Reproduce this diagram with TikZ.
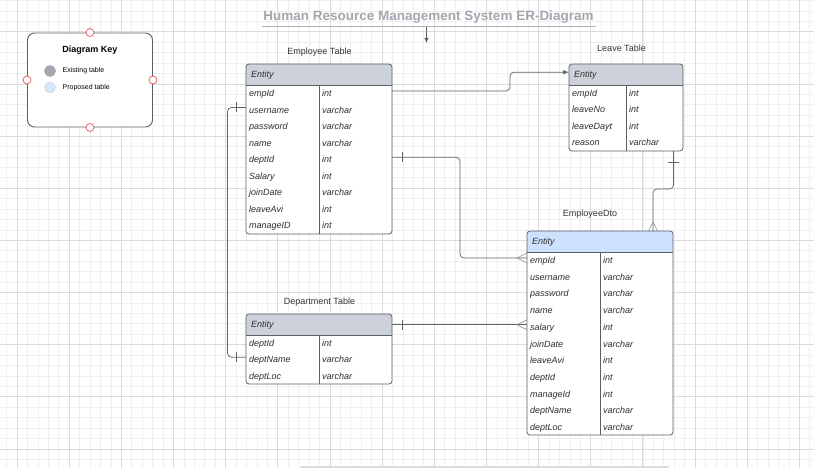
\documentclass[tikz,border=0pt]{standalone}
\usepackage{fontspec}
\setmainfont{Liberation Sans}
\usetikzlibrary{arrows.meta,calc}
\definecolor{gridminor}{HTML}{EFEFEF}
\definecolor{gridmajor}{HTML}{DBDBDB}
\definecolor{hdrgray}{HTML}{CDD2DA}
\definecolor{hdrblue}{HTML}{CFE2FD}
\definecolor{bordergray}{HTML}{5B5F66}
\definecolor{conncol}{HTML}{5F636A}
\definecolor{crowcol}{HTML}{8C9096}
\definecolor{titlegray}{HTML}{A3A8B0}
\definecolor{keyred}{HTML}{E5535E}
\definecolor{existcol}{HTML}{A4A9B1}
\definecolor{propcol}{HTML}{D4E6FA}
\tikzset{
  rowtxt/.style={font=\fontsize{9}{10}\selectfont\itshape, text=black!82, inner sep=0pt, anchor=base west},
  lbltxt/.style={font=\fontsize{9}{10}\selectfont, text=black!80, inner sep=0pt},
  tblborder/.style={draw=bordergray, line width=0.8pt, rounded corners=3pt},
  conn/.style={draw=conncol, line width=0.7pt},
  crow/.style={draw=crowcol, line width=0.6pt},
  redpt/.style={circle, draw=keyred, fill=white, minimum size=8pt, inner sep=0pt, line width=0.7pt},
}
\newcommand\ertable[9]{%
  \node[fill=white, inner sep=0pt, outer sep=0pt, minimum width={#4-#2}, minimum height={#5-#3}, anchor=north west, rounded corners=3pt] (#1) at (#2,#3) {};
  \begin{scope}
    \clip[rounded corners=3pt] (#2,#3) rectangle (#4,#5);
    \fill[#7] (#2,#3) rectangle (#4,{#3+21});
  \end{scope}
  \node[rowtxt] (#1-hdr) at ({#2+5},{#3+10.5+3.2}) {Entity};
  \draw[bordergray, line width=0.8pt] (#2,{#3+21}) -- (#4,{#3+21});
  \draw[bordergray, line width=0.8pt] (#6,{#3+21}) -- (#6,#5);
  \foreach \n/\t [count=\i] in {#9} {
    \node[rowtxt] (#1-\n) at ({#2+3},{#3+21+#8*(\i-0.5)+3.2}) {\n};
    \node[rowtxt] (#1-\n-type) at ({#6+3},{#3+21+#8*(\i-0.5)+3.2}) {\t};
  }
  \draw[tblborder] (#1.north west) rectangle (#1.south east);
}
\begin{document}
\begin{tikzpicture}[x=1pt,y=-1pt]
\useasboundingbox (0,0) rectangle (814,468);
\fill[white] (0,0) rectangle (814,468);
% grid
\begin{scope}
  \clip (0,0) rectangle (814,468);
  \foreach \i in {-2,...,78} \draw[gridminor, line width=0.55pt] ({17+10.43*\i},0) -- ({17+10.43*\i},468);
  \foreach \j in {-4,...,43} \draw[gridminor, line width=0.55pt] (0,{31.7+10.43*\j}) -- (814,{31.7+10.43*\j});
  \foreach \i in {0,...,15} \draw[gridmajor, line width=0.65pt] ({17+52.15*\i},0) -- ({17+52.15*\i},468);
  \foreach \j in {-1,...,8} \draw[gridmajor, line width=0.65pt] (0,{31.7+52.15*\j}) -- (814,{31.7+52.15*\j});
\end{scope}
% bottom bar
\fill[gray!28, rounded corners=1.5pt] (300,466) rectangle (669,471);
% title
\node[font=\fontsize{13.5}{15}\selectfont\bfseries, text=titlegray, inner sep=0pt] (title) at (428.5,16.7) {Human Resource Management System ER-Diagram};
\draw[titlegray!90, line width=0.8pt] (262,26.7) -- (596,26.7);
\coordinate (titlearrow) at (426.5,43);
\draw[conncol, line width=0.8pt, -{Latex[length=5pt,width=4.5pt]}] (426.5,27.5) -- (titlearrow);
% key
\node[draw=bordergray, line width=0.9pt, rounded corners=7pt, fill=white, minimum width=125pt, minimum height=94pt, inner sep=0pt] (key) at (90,80) {};
\node[font=\fontsize{9}{10}\selectfont\bfseries, inner sep=0pt] (keytitle) at (90,50) {Diagram Key};
\node[circle, fill=existcol, draw=existcol!85!black, line width=0.4pt, minimum size=11pt, inner sep=0pt] (exist) at (50,71) {};
\node[circle, fill=propcol, draw=propcol!80!gray, line width=0.4pt, minimum size=11pt, inner sep=0pt] (prop) at (50,87.5) {};
\node[font=\fontsize{7}{8}\selectfont, anchor=west, inner sep=0pt] (existlbl) at (62.5,71) {Existing table};
\node[font=\fontsize{7}{8}\selectfont, anchor=west, inner sep=0pt] (proplbl) at (62.5,87.5) {Proposed table};
\foreach \a in {north,south,east,west} \node[redpt] (key-\a) at (key.\a) {};
% table labels
\node[lbltxt] (emplbl) at (319.5,52) {Employee Table};
\node[lbltxt] (leavelbl) at (621.5,48) {Leave Table};
\node[lbltxt] (dtolbl) at (590,214.5) {EmployeeDto};
\node[lbltxt] (deptlbl) at (319.5,302.5) {Department Table};
% tables
\ertable{emp}{246}{64}{392}{234}{319}{hdrgray}{16.56}{empId/int,username/varchar,password/varchar,name/varchar,deptId/int,Salary/int,joinDate/varchar,leaveAvi/int,manageID/int}
\ertable{leave}{569}{64}{683}{151}{626}{hdrgray}{16.5}{empId/int,leaveNo/int,leaveDayt/int,reason/varchar}
\ertable{dto}{527}{231}{673}{435}{600}{hdrblue}{16.7}{empId/int,username/varchar,password/varchar,name/varchar,salary/int,joinDate/varchar,leaveAvi/int,deptId/int,manageId/int,deptName/varchar,deptLoc/varchar}
\ertable{dept}{246}{314}{392}{384}{319}{hdrgray}{16.33}{deptId/int,deptName/varchar,deptLoc/varchar}
% connectors
\coordinate (c1) at ($(emp.east |- emp-empId)+(0,-3.2)$);
\coordinate (c1e) at ($(leave.west |- leave-hdr)+(0,-3.2)$);
\draw[conn, rounded corners=4pt, -{Latex[length=6pt,width=4.5pt]}] (c1) -- (510,0 |- c1) |- (c1e);
% employee deptId -> dto empId
\coordinate (c2) at ($(emp.east |- emp-deptId)+(0,-3.2)$);
\coordinate (c2e) at ($(dto.west |- dto-empId)+(0,-3.2)$);
\draw[conn, rounded corners=4pt] (c2) -- ++(68,0) |- (c2e);
\draw[conn] (c2) ++(10,-5) -- ++(0,10);
\draw[crow] (c2e) ++(0,-5) -- ++(-10,5) -- ++(10,5);
% leave -> dto
\coordinate (c3) at ([xshift=-9.5pt]leave.south east);
\coordinate (c3e) at ([xshift=-20pt]dto.north east);
\draw[conn, rounded corners=4pt] (c3) -- ++(0,38) -| (c3e);
\draw[conn] (c3) ++(-5.5,11) -- ++(11,0);
\draw[crow] (c3e) ++(-4.5,0) -- ++(4.5,-9) -- ++(4.5,9);
% dept -> dto salary
\coordinate (c4e) at ($(dto.west |- dto-salary)+(0,-3.2)$);
\coordinate (c4) at (dept.east |- c4e);
\draw[conn] (c4) -- (c4e);
\draw[conn] (c4) ++(10,-5) -- ++(0,10);
\draw[crow] (c4e) ++(0,-5) -- ++(-10,5) -- ++(10,5);
% emp username -> dept deptName
\coordinate (c5) at ($(emp.west |- emp-username)+(0,-3.2)$);
\coordinate (c5e) at ($(dept.west |- dept-deptName)+(0,-3.2)$);
\draw[conn, rounded corners=4pt] (c5) -- ++(-18.5,0) |- (c5e);
\draw[conn] (c5) ++(-10,-5) -- ++(0,10);
\draw[conn] (c5e) ++(-10,-5) -- ++(0,10);
\end{tikzpicture}
\end{document}
